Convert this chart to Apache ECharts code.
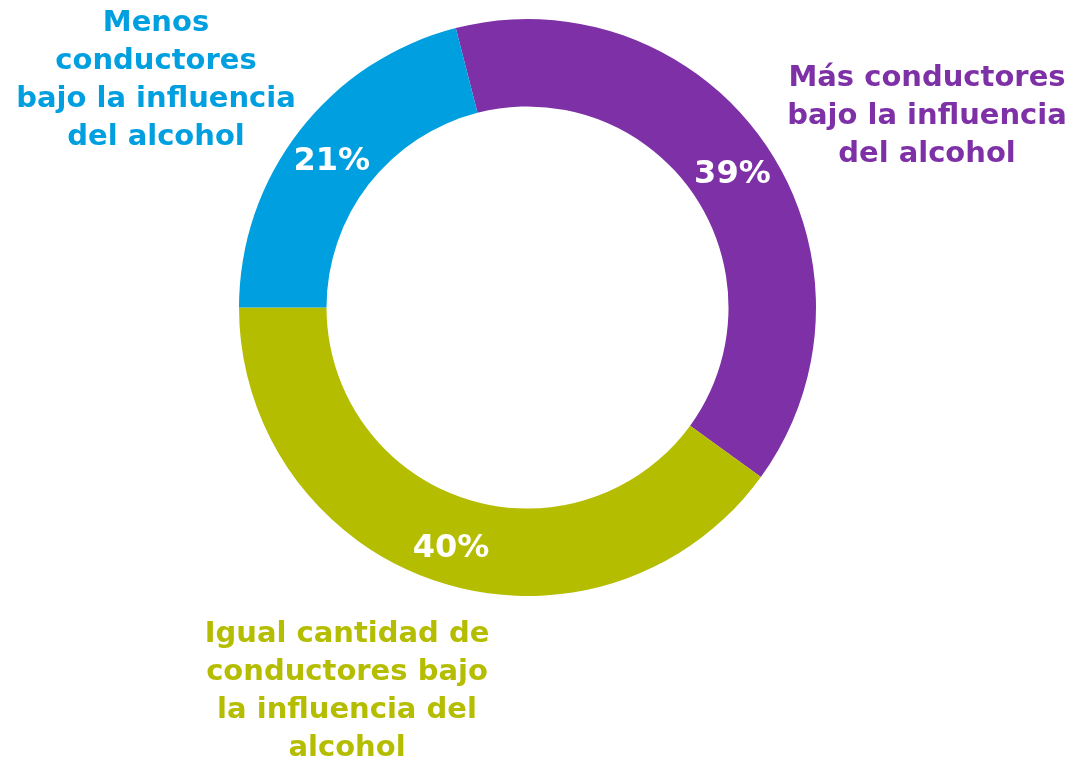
<!DOCTYPE html>
<html>
<head>
<meta charset="utf-8">
<script src="https://cdn.jsdelivr.net/npm/echarts@6/dist/echarts.min.js"></script>
<style>
  html, body { margin: 0; padding: 0; background: #fff; }
  #chart { width: 1077px; height: 761px; }
</style>
</head>
<body>
<div id="chart"></div>
<script>
// categorias y valores (%)
var categorias = [
  "Más conductores\nbajo la influencia\ndel alcohol",
  "Igual cantidad de\nconductores bajo\nla influencia del\nalcohol",
  "Menos\nconductores\nbajo la influencia\ndel alcohol"
];
var valores = [39, 40, 21];
var colores = ["#7E30A6", "#B5BD00", "#009FDF"];

// posicion de los textos de categoria
var posTextos = [[927, 116], [347, 691], [156, 80]];

var fuente = "'DejaVu Sans', sans-serif";

var myChart = echarts.init(document.getElementById("chart"));

var datos = [];
for (var i = 0; i < valores.length; i++) {
  datos.push({ name: categorias[i], value: valores[i], itemStyle: { color: colores[i] } });
}

var textos = [];
for (var j = 0; j < categorias.length; j++) {
  textos.push({
    type: "text",
    x: posTextos[j][0],
    y: posTextos[j][1],
    style: {
      text: categorias[j],
      fill: colores[j],
      font: "bold 29px " + fuente,
      lineHeight: 38,
      align: "center",
      verticalAlign: "middle"
    }
  });
}

myChart.setOption({
  animation: false,
  graphic: textos,
  series: [
    {
      type: "pie",
      center: [527.5, 307.5],
      radius: [201, 288.5],
      startAngle: 104.4,
      clockwise: true,
      avoidLabelOverlap: false,
      itemStyle: { borderWidth: 0 },
      label: {
        show: true,
        position: "inside",
        formatter: "{c}%",
        color: "#fff",
        fontFamily: fuente,
        fontWeight: "bold",
        fontSize: 32
      },
      labelLayout: { dy: 6 },
      labelLine: { show: false },
      emphasis: { disabled: true },
      data: datos
    }
  ]
});
</script>
</body>
</html>
